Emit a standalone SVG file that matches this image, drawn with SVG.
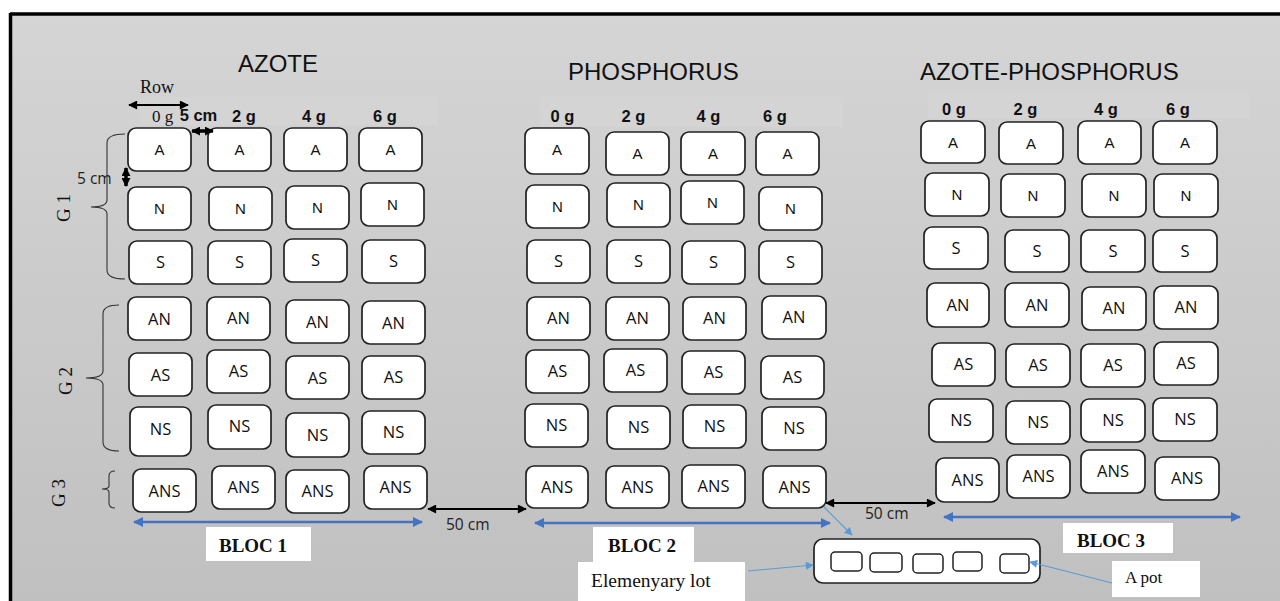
<svg xmlns="http://www.w3.org/2000/svg" width="1280" height="601" viewBox="0 0 1280 601">
<defs>
<linearGradient id="bg" x1="0" y1="0" x2="0" y2="1">
<stop offset="0" stop-color="#d5d5d5"/>
<stop offset="1" stop-color="#c0c0c0"/>
</linearGradient>
<marker id="ak" viewBox="0 0 10 10" refX="9" refY="5" markerWidth="10" markerHeight="9" markerUnits="userSpaceOnUse" orient="auto-start-reverse"><path d="M0,0 L10,5 L0,10 z" fill="#000"/></marker>
<marker id="akb" viewBox="0 0 10 10" refX="9" refY="5" markerWidth="9" markerHeight="9" markerUnits="userSpaceOnUse" orient="auto-start-reverse"><path d="M0,0 L10,5 L0,10 z" fill="#000"/></marker>
<marker id="ab" viewBox="0 0 10 10" refX="9" refY="5" markerWidth="11" markerHeight="10" markerUnits="userSpaceOnUse" orient="auto-start-reverse"><path d="M0,0 L10,5 L0,10 z" fill="#4472C4"/></marker>
<marker id="al" viewBox="0 0 10 10" refX="9" refY="5" markerWidth="10" markerHeight="8" markerUnits="userSpaceOnUse" orient="auto"><path d="M0,0 L10,5 L0,10 z" fill="#5B9BD5"/></marker>
</defs>
<style>
.box{fill:#fff;stroke:#222;stroke-width:1.7}
.pot{fill:#fff;stroke:#222;stroke-width:1.5}
.t1{font-family:"Liberation Sans",Arial,sans-serif;font-size:15px;fill:#111;text-anchor:middle}
.t2{font-family:"Open Sans","Liberation Sans",sans-serif;font-size:16.5px;fill:#111;text-anchor:middle}
.title{font-family:"Liberation Sans",Arial,sans-serif;font-size:24px;fill:#111}
.col{font-family:"Liberation Sans",Arial,sans-serif;font-size:16.5px;font-weight:bold;fill:#111;text-anchor:middle}
.ser{font-family:"Liberation Serif","Times New Roman",serif;fill:#111}
.serb{font-family:"Liberation Serif","Times New Roman",serif;font-weight:bold;font-size:19px;fill:#111}
.lbl{font-family:"Open Sans","Liberation Sans",sans-serif;font-size:15.5px;fill:#222}
.brace{fill:none;stroke:#333;stroke-width:1.1}
.blk{stroke:#000;stroke-width:2.2;fill:none}
.blue{stroke:#4472C4;stroke-width:2.5;fill:none}
.lb{stroke:#5B9BD5;stroke-width:1.1;fill:none}
.wb{fill:#fff}
.band{fill:#dcdcdc;opacity:0.3}
</style>
<rect x="0" y="0" width="1280" height="601" fill="#fff"/>
<rect x="10" y="13" width="1270" height="588" fill="url(#bg)"/>
<rect class="band" x="140" y="97" width="298" height="28"/>
<rect class="band" x="540" y="97" width="303" height="30"/>
<rect class="band" x="928" y="93" width="322" height="26"/>
<line x1="10" y1="14" x2="1280" y2="14" stroke="#000" stroke-width="3.5"/>
<line x1="10.5" y1="13" x2="10.5" y2="601" stroke="#000" stroke-width="3.5"/>

<g id="titles">
<text class="title" x="238" y="72">AZOTE</text>
<text class="title" x="568" y="80">PHOSPHORUS</text>
<text class="title" x="920" y="80">AZOTE-PHOSPHORUS</text>
</g>

<g id="headers">
<text class="ser" x="140" y="93" font-size="18">Row</text>
<text class="ser" x="162.5" y="122" font-size="17" text-anchor="middle">0 g</text>
<text class="col" x="198.5" y="121">5 cm</text>
<text class="col" x="244" y="122">2 g</text>
<text class="col" x="314" y="122">4 g</text>
<text class="col" x="385" y="122">6 g</text>
<text class="col" x="562.5" y="122">0 g</text>
<text class="col" x="633.5" y="122">2 g</text>
<text class="col" x="708.5" y="122">4 g</text>
<text class="col" x="775" y="122">6 g</text>
<text class="col" x="954" y="115">0 g</text>
<text class="col" x="1025.5" y="115">2 g</text>
<text class="col" x="1106" y="115">4 g</text>
<text class="col" x="1178" y="115">6 g</text>
<text class="lbl" x="77" y="184">5 cm</text>
</g>

<g id="groups">
<path class="brace" d="M125,134 Q107,134 107,143 L107,200 Q107,207 91,207 Q107,207 107,214 L107,270 Q107,279 125,279"/>
<path class="brace" d="M119,305 Q103,305 103,314 L103,371 Q103,378 86,378 Q103,378 103,385 L103,442 Q103,451 119,451"/>
<path class="brace" d="M115,471 Q109,471 109,476 L109,486 Q109,489 102,489 Q109,489 109,492 L109,503 Q109,508 115,508"/>
<text class="ser" font-size="19" text-anchor="middle" transform="translate(70,208) rotate(-90)">G 1</text>
<text class="ser" font-size="19" text-anchor="middle" transform="translate(72,381) rotate(-90)">G 2</text>
<text class="ser" font-size="19" text-anchor="middle" transform="translate(65,493) rotate(-90)">G 3</text>
</g>

<g id="bloc1">
<g id="b1-A1"><rect class="box" x="128" y="128" width="63" height="43" rx="8"/><text class="t1" x="159.5" y="155">A</text></g>
<g id="b1-A2"><rect class="box" x="208" y="128" width="63" height="43" rx="8"/><text class="t1" x="239.5" y="155">A</text></g>
<g id="b1-A3"><rect class="box" x="284" y="128" width="63" height="43" rx="8"/><text class="t1" x="315.5" y="155">A</text></g>
<g id="b1-A4"><rect class="box" x="359" y="128" width="63" height="43" rx="8"/><text class="t1" x="390.5" y="155">A</text></g>
<g id="b1-N1"><rect class="box" x="128" y="187" width="63" height="43" rx="8"/><text class="t1" x="159.5" y="214">N</text></g>
<g id="b1-N2"><rect class="box" x="209" y="187" width="63" height="43" rx="8"/><text class="t1" x="240.5" y="214">N</text></g>
<g id="b1-N3"><rect class="box" x="286" y="186" width="63" height="43" rx="8"/><text class="t1" x="317.5" y="213">N</text></g>
<g id="b1-N4"><rect class="box" x="361" y="183" width="63" height="43" rx="8"/><text class="t1" x="392.5" y="210">N</text></g>
<g id="b1-S1"><rect class="box" x="129" y="241" width="63" height="43" rx="8"/><text class="t2" x="160.5" y="268">S</text></g>
<g id="b1-S2"><rect class="box" x="208" y="241" width="63" height="43" rx="8"/><text class="t2" x="239.5" y="268">S</text></g>
<g id="b1-S3"><rect class="box" x="284" y="239" width="63" height="43" rx="8"/><text class="t2" x="315.5" y="266">S</text></g>
<g id="b1-S4"><rect class="box" x="362" y="240" width="63" height="43" rx="8"/><text class="t2" x="393.5" y="267">S</text></g>
<g id="b1-AN1"><rect class="box" x="128" y="297" width="63" height="43" rx="8"/><text class="t2" x="159.5" y="325">AN</text></g>
<g id="b1-AN2"><rect class="box" x="207" y="297" width="63" height="43" rx="8"/><text class="t2" x="238.5" y="324">AN</text></g>
<g id="b1-AN3"><rect class="box" x="286" y="300" width="63" height="43" rx="8"/><text class="t2" x="317.5" y="327.5">AN</text></g>
<g id="b1-AN4"><rect class="box" x="362" y="301" width="63" height="43" rx="8"/><text class="t2" x="393.5" y="328.5">AN</text></g>
<g id="b1-AS1"><rect class="box" x="129" y="353" width="63" height="43" rx="8"/><text class="t2" x="160.5" y="380.5">AS</text></g>
<g id="b1-AS2"><rect class="box" x="207" y="350" width="63" height="43" rx="8"/><text class="t2" x="238.5" y="377">AS</text></g>
<g id="b1-AS3"><rect class="box" x="286" y="356" width="63" height="43" rx="8"/><text class="t2" x="317.5" y="383.5">AS</text></g>
<g id="b1-AS4"><rect class="box" x="362" y="356" width="63" height="43" rx="8"/><text class="t2" x="393.5" y="383">AS</text></g>
<g id="b1-NS1"><rect class="box" x="130" y="407" width="61" height="49" rx="8"/><text class="t2" x="160.5" y="435">NS</text></g>
<g id="b1-NS2"><rect class="box" x="208" y="405" width="63" height="44" rx="8"/><text class="t2" x="239.5" y="432">NS</text></g>
<g id="b1-NS3"><rect class="box" x="286" y="413" width="63" height="44" rx="8"/><text class="t2" x="317.5" y="440.5">NS</text></g>
<g id="b1-NS4"><rect class="box" x="362" y="411" width="63" height="43" rx="8"/><text class="t2" x="393.5" y="438">NS</text></g>
<g id="b1-ANS1"><rect class="box" x="133" y="469" width="63" height="43" rx="8"/><text class="t2" x="164.5" y="496.5">ANS</text></g>
<g id="b1-ANS2"><rect class="box" x="212" y="466" width="63" height="43" rx="8"/><text class="t2" x="243.5" y="493">ANS</text></g>
<g id="b1-ANS3"><rect class="box" x="286" y="470" width="63" height="43" rx="8"/><text class="t2" x="317.5" y="497">ANS</text></g>
<g id="b1-ANS4"><rect class="box" x="364" y="466" width="63" height="43" rx="8"/><text class="t2" x="395.5" y="493">ANS</text></g>
</g>

<g id="bloc2">
<g id="b2-A1"><rect class="box" x="525" y="128" width="64" height="46" rx="8"/><text class="t1" x="557" y="155">A</text></g>
<g id="b2-A2"><rect class="box" x="606" y="132" width="63" height="43" rx="8"/><text class="t1" x="637.5" y="159">A</text></g>
<g id="b2-A3"><rect class="box" x="681" y="132" width="64" height="43" rx="8"/><text class="t1" x="713" y="159">A</text></g>
<g id="b2-A4"><rect class="box" x="756" y="132" width="63" height="43" rx="8"/><text class="t1" x="787.5" y="159">A</text></g>
<g id="b2-N1"><rect class="box" x="526" y="185" width="63" height="43" rx="8"/><text class="t1" x="557.5" y="212">N</text></g>
<g id="b2-N2"><rect class="box" x="607" y="183" width="63" height="44" rx="8"/><text class="t1" x="638.5" y="210">N</text></g>
<g id="b2-N3"><rect class="box" x="681" y="181" width="63" height="43" rx="8"/><text class="t1" x="712.5" y="208">N</text></g>
<g id="b2-N4"><rect class="box" x="759" y="187" width="63" height="43" rx="8"/><text class="t1" x="790.5" y="214">N</text></g>
<g id="b2-S1"><rect class="box" x="527" y="240" width="63" height="43" rx="8"/><text class="t2" x="558.5" y="267">S</text></g>
<g id="b2-S2"><rect class="box" x="607" y="240" width="63" height="43" rx="8"/><text class="t2" x="638.5" y="267">S</text></g>
<g id="b2-S3"><rect class="box" x="682" y="241" width="63" height="43" rx="8"/><text class="t2" x="713.5" y="268">S</text></g>
<g id="b2-S4"><rect class="box" x="759" y="241" width="63" height="43" rx="8"/><text class="t2" x="790.5" y="268">S</text></g>
<g id="b2-AN1"><rect class="box" x="527" y="297" width="63" height="43" rx="8"/><text class="t2" x="558.5" y="324">AN</text></g>
<g id="b2-AN2"><rect class="box" x="606" y="297" width="63" height="43" rx="8"/><text class="t2" x="637.5" y="324">AN</text></g>
<g id="b2-AN3"><rect class="box" x="683" y="297" width="63" height="43" rx="8"/><text class="t2" x="714.5" y="324">AN</text></g>
<g id="b2-AN4"><rect class="box" x="762" y="296" width="64" height="43" rx="8"/><text class="t2" x="794" y="323">AN</text></g>
<g id="b2-AS1"><rect class="box" x="526" y="350" width="63" height="43" rx="8"/><text class="t2" x="557.5" y="377">AS</text></g>
<g id="b2-AS2"><rect class="box" x="604" y="349" width="63" height="43" rx="8"/><text class="t2" x="635.5" y="376">AS</text></g>
<g id="b2-AS3"><rect class="box" x="682" y="351" width="63" height="43" rx="8"/><text class="t2" x="713.5" y="378">AS</text></g>
<g id="b2-AS4"><rect class="box" x="761" y="356" width="63" height="43" rx="8"/><text class="t2" x="792.5" y="383">AS</text></g>
<g id="b2-NS1"><rect class="box" x="525" y="404" width="63" height="43" rx="8"/><text class="t2" x="556.5" y="431">NS</text></g>
<g id="b2-NS2"><rect class="box" x="607" y="406" width="63" height="43" rx="8"/><text class="t2" x="638.5" y="433">NS</text></g>
<g id="b2-NS3"><rect class="box" x="683" y="405" width="63" height="43" rx="8"/><text class="t2" x="714.5" y="432">NS</text></g>
<g id="b2-NS4"><rect class="box" x="762" y="407" width="64" height="43" rx="8"/><text class="t2" x="794" y="434">NS</text></g>
<g id="b2-ANS1"><rect class="box" x="526" y="466" width="62" height="42" rx="8"/><text class="t2" x="557" y="492.5">ANS</text></g>
<g id="b2-ANS2"><rect class="box" x="606" y="466" width="63" height="42" rx="8"/><text class="t2" x="637.5" y="492.5">ANS</text></g>
<g id="b2-ANS3"><rect class="box" x="682" y="465" width="63" height="43" rx="8"/><text class="t2" x="713.5" y="492">ANS</text></g>
<g id="b2-ANS4"><rect class="box" x="763" y="466" width="63" height="42" rx="8"/><text class="t2" x="794.5" y="492.5">ANS</text></g>
</g>

<g id="bloc3">
<g id="b3-A1"><rect class="box" x="921" y="121" width="64" height="42" rx="8"/><text class="t1" x="953" y="147.5">A</text></g>
<g id="b3-A2"><rect class="box" x="999" y="122" width="64" height="42" rx="8"/><text class="t1" x="1031" y="148.5">A</text></g>
<g id="b3-A3"><rect class="box" x="1078" y="121" width="63" height="43" rx="8"/><text class="t1" x="1109.5" y="148">A</text></g>
<g id="b3-A4"><rect class="box" x="1153" y="121" width="64" height="43" rx="8"/><text class="t1" x="1185" y="148">A</text></g>
<g id="b3-N1"><rect class="box" x="925" y="173" width="64" height="43" rx="8"/><text class="t1" x="957" y="200">N</text></g>
<g id="b3-N2"><rect class="box" x="1001" y="174" width="64" height="43" rx="8"/><text class="t1" x="1033" y="201">N</text></g>
<g id="b3-N3"><rect class="box" x="1082" y="174" width="64" height="43" rx="8"/><text class="t1" x="1114" y="201">N</text></g>
<g id="b3-N4"><rect class="box" x="1154" y="174" width="64" height="43" rx="8"/><text class="t1" x="1186" y="201">N</text></g>
<g id="b3-S1"><rect class="box" x="924" y="227" width="64" height="42" rx="8"/><text class="t2" x="956" y="253.5">S</text></g>
<g id="b3-S2"><rect class="box" x="1005" y="230" width="64" height="42" rx="8"/><text class="t2" x="1037" y="256.5">S</text></g>
<g id="b3-S3"><rect class="box" x="1081" y="230" width="64" height="42" rx="8"/><text class="t2" x="1113" y="256.5">S</text></g>
<g id="b3-S4"><rect class="box" x="1153" y="230" width="64" height="42" rx="8"/><text class="t2" x="1185" y="256.5">S</text></g>
<g id="b3-AN1"><rect class="box" x="927" y="283" width="62" height="44" rx="8"/><text class="t2" x="958" y="310.5">AN</text></g>
<g id="b3-AN2"><rect class="box" x="1005" y="283" width="64" height="44" rx="8"/><text class="t2" x="1037" y="310.5">AN</text></g>
<g id="b3-AN3"><rect class="box" x="1082" y="287" width="64" height="43" rx="8"/><text class="t2" x="1114" y="314">AN</text></g>
<g id="b3-AN4"><rect class="box" x="1154" y="286" width="64" height="43" rx="8"/><text class="t2" x="1186" y="313">AN</text></g>
<g id="b3-AS1"><rect class="box" x="932" y="343" width="63" height="43" rx="8"/><text class="t2" x="963.5" y="370">AS</text></g>
<g id="b3-AS2"><rect class="box" x="1006" y="344" width="64" height="43" rx="8"/><text class="t2" x="1038" y="371">AS</text></g>
<g id="b3-AS3"><rect class="box" x="1081" y="344" width="64" height="43" rx="8"/><text class="t2" x="1113" y="371">AS</text></g>
<g id="b3-AS4"><rect class="box" x="1154" y="342" width="64" height="43" rx="8"/><text class="t2" x="1186" y="369">AS</text></g>
<g id="b3-NS1"><rect class="box" x="929" y="399" width="64" height="43" rx="8"/><text class="t2" x="961" y="426">NS</text></g>
<g id="b3-NS2"><rect class="box" x="1006" y="401" width="64" height="43" rx="8"/><text class="t2" x="1038" y="428">NS</text></g>
<g id="b3-NS3"><rect class="box" x="1081" y="399" width="64" height="43" rx="8"/><text class="t2" x="1113" y="426">NS</text></g>
<g id="b3-NS4"><rect class="box" x="1153" y="398" width="64" height="43" rx="8"/><text class="t2" x="1185" y="425">NS</text></g>
<g id="b3-ANS1"><rect class="box" x="936" y="458" width="63" height="44" rx="8"/><text class="t2" x="967.5" y="485.5">ANS</text></g>
<g id="b3-ANS2"><rect class="box" x="1007" y="455" width="63" height="43" rx="8"/><text class="t2" x="1038.5" y="482">ANS</text></g>
<g id="b3-ANS3"><rect class="box" x="1081" y="450" width="64" height="43" rx="8"/><text class="t2" x="1113" y="477">ANS</text></g>
<g id="b3-ANS4"><rect class="box" x="1155" y="457" width="64" height="43" rx="8"/><text class="t2" x="1187" y="484">ANS</text></g>
</g>

<g id="lot">
<rect class="box" x="814" y="539" width="226" height="44" rx="9"/>
<rect class="pot" x="831" y="552" width="31" height="19" rx="4"/>
<rect class="pot" x="870" y="553" width="32" height="19" rx="4"/>
<rect class="pot" x="913" y="554" width="30" height="19" rx="4"/>
<rect class="pot" x="953" y="552" width="29" height="19" rx="4"/>
<rect class="pot" x="1000" y="554" width="29" height="19" rx="4"/>
</g>

<g id="labels">
<rect class="wb" x="206" y="527" width="105" height="34"/>
<text class="serb" x="219" y="552">BLOC 1</text>
<rect class="wb" x="593" y="527" width="101" height="35"/>
<text class="serb" x="608" y="552">BLOC 2</text>
<rect class="wb" x="578" y="562" width="167" height="39"/>
<text class="ser" x="591" y="587" font-size="19.5">Elemenyary lot</text>
<rect class="wb" x="1063" y="523" width="110" height="30"/>
<text class="serb" x="1077" y="547">BLOC 3</text>
<rect class="wb" x="1112" y="561" width="88" height="36"/>
<text class="ser" x="1125" y="583" font-size="17">A pot</text>
<text class="lbl" x="446" y="530">50 cm</text>
<text class="lbl" x="865" y="519">50 cm</text>
</g>

<g id="connectors">
<line class="blk" x1="129" y1="105" x2="188" y2="105" marker-start="url(#ak)" marker-end="url(#ak)"/>
<line x1="192" y1="131" x2="213" y2="131" stroke="#000" stroke-width="3.5" marker-start="url(#akb)" marker-end="url(#akb)"/>
<line x1="126" y1="168" x2="126" y2="186" stroke="#000" stroke-width="3.5" marker-start="url(#akb)" marker-end="url(#akb)"/>
<line class="blk" x1="428" y1="509" x2="526" y2="509" marker-start="url(#ak)" marker-end="url(#ak)"/>
<line class="blk" x1="826" y1="503" x2="935" y2="503" marker-start="url(#ak)" marker-end="url(#ak)"/>
<line class="blue" x1="134" y1="522" x2="422" y2="522" marker-start="url(#ab)" marker-end="url(#ab)"/>
<line class="blue" x1="535" y1="523" x2="830" y2="523" marker-start="url(#ab)" marker-end="url(#ab)"/>
<line class="blue" x1="944" y1="517" x2="1240" y2="517" marker-start="url(#ab)" marker-end="url(#ab)"/>
<line class="lb" x1="824" y1="507" x2="852" y2="535" marker-end="url(#al)"/>
<line class="lb" x1="748" y1="571" x2="813" y2="565" marker-end="url(#al)"/>
<line class="lb" x1="1112" y1="583" x2="1030" y2="562" marker-end="url(#al)"/>
</g>
</svg>
